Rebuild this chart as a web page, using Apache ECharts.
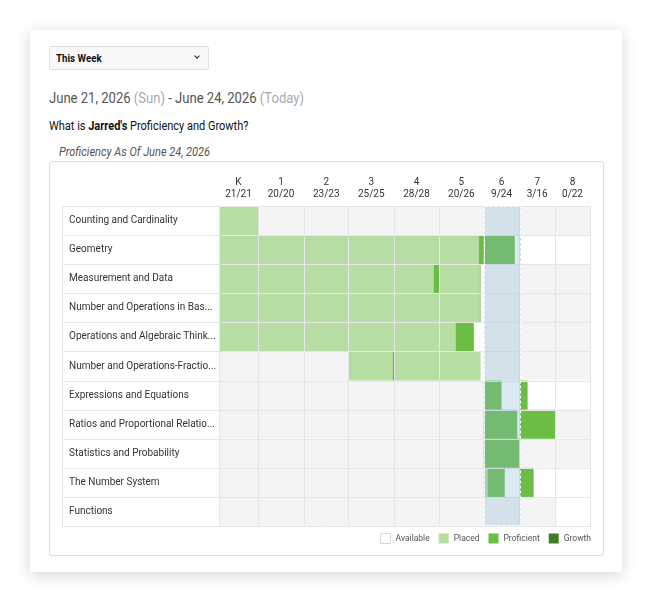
<!DOCTYPE html>
<html>
<head>
<meta charset="utf-8">
<script src="https://cdn.jsdelivr.net/npm/echarts@6/dist/echarts.min.js"></script>
<style>
  html, body { margin: 0; padding: 0; width: 653px; height: 603px; overflow: hidden; background: #fff;
    font-family: 'Roboto', sans-serif; }
  .card { position: absolute; left: 30px; top: 30px; width: 592px; height: 542px; background: #fff;
    box-shadow: 0 3px 14px rgba(0, 0, 0, 0.17); }
  .narrow { position: absolute; white-space: nowrap; transform-origin: 0 50%; }
  .select { position: absolute; left: 49px; top: 46px; width: 158px; height: 22px; background: #f8f8f8;
    border: 1px solid #e0e0e0; border-radius: 2px; }
  .select span { left: 6px; top: 4px; font-size: 11.5px; color: #111; font-weight: bold; transform: scaleX(0.85); }
  .select i { position: absolute; right: 9px; top: 7px; width: 3px; height: 3px; border-right: 1.5px solid #222;
    border-bottom: 1.5px solid #222; transform: rotate(45deg); }
  .dates { left: 49px; top: 90px; font-size: 14.5px; color: #555; transform: scaleX(0.9); }
  .dates span { color: #aaa; }
  .question { left: 49px; top: 118px; font-size: 12.5px; color: #111; transform: scaleX(0.88); }
  .sub { left: 59px; top: 144px; font-size: 12.5px; color: #555; font-style: italic; transform: scaleX(0.88); }
  .box { position: absolute; left: 49px; top: 161px; width: 553px; height: 393px; border: 1px solid #dedede; border-radius: 3px; }
  #chart { position: absolute; left: 0; top: 0; width: 653px; height: 603px; }
</style>
</head>
<body>
<div class="card"></div>
<div class="select"><span class="narrow">This Week</span><i></i></div>
<div class="narrow dates">June 21, 2026 <span>(Sun)</span> - June 24, 2026 <span>(Today)</span></div>
<div class="narrow question">What is <b>Jarred's</b> Proficiency and Growth?</div>
<div class="narrow sub">Proficiency As Of June 24, 2026</div>
<div class="box"></div>
<div id="chart"></div>

<script>
// 年级 / 得分
const grades = ['K', '1', '2', '3', '4', '5', '6', '7', '8'];
const gradeScores = ['21/21', '20/20', '23/23', '25/25', '28/28', '20/26', '9/24', '3/16', '0/22'];
const domains = [
  'Counting and Cardinality',
  'Geometry',
  'Measurement and Data',
  'Number and Operations in Base Ten',
  'Operations and Algebraic Thinking',
  'Number and Operations-Fractions',
  'Expressions and Equations',
  'Ratios and Proportional Relationships',
  'Statistics and Probability',
  'The Number System',
  'Functions'
];
const n = null; // grade not offered for this domain
// % of the cell placed
const placed = [
  [100, n, n, n, n, n, n, n, n],
  [100, 100, 100, 100, 100, 89, 0, 0, 0],
  [100, 100, 100, 100, 88, 91, n, n, n],
  [100, 100, 100, 100, 100, 91, n, n, n],
  [100, 100, 100, 100, 100, 37, n, n, n],
  [n, n, n, 97, 100, 93, n, n, n],
  [n, n, n, n, n, n, 3, 0, 0],
  [n, n, n, n, n, n, 0, 0, n],
  [n, n, n, n, n, n, 0, n, n],
  [n, n, n, n, n, n, 11, 0, 0],
  [n, n, n, n, n, n, n, n, 0]
];
// % of the cell proficient
const proficient = [
  [0, n, n, n, n, n, n, n, n],
  [0, 0, 0, 0, 0, 11, 87, 3, 0],
  [0, 0, 0, 0, 12, 2, n, n, n],
  [0, 0, 0, 0, 0, 2, n, n, n],
  [0, 0, 0, 0, 0, 41, n, n, n],
  [n, n, n, 3, 0, 0, n, n, n],
  [n, n, n, n, n, n, 47, 23, 0],
  [n, n, n, n, n, n, 94, 100, n],
  [n, n, n, n, n, n, 100, n, n],
  [n, n, n, n, n, n, 48, 40, 0],
  [n, n, n, n, n, n, n, n, 3]
];
const currentGrade = 6;

// layout
const colWeights = [39, 46, 44.4, 45.6, 45, 44.7, 35.7, 35.6, 35];
const labelCol = 157;
const font = "'Roboto', sans-serif";
const cPlaced = '#b6dea3', cProf = '#6cbd45', cGrowth = '#3f7d2b';

const edges = [0];
colWeights.forEach((w, i) => edges.push(edges[i] + w));
const centers = colWeights.map((w, i) => edges[i] + w / 2);

const cellData = [], placedData = [], profData = [];
domains.forEach((d, r) => {
  grades.forEach((g, c) => {
    const x0 = edges[c], w = edges[c + 1] - edges[c];
    const p = placed[r][c], q = proficient[r][c];
    cellData.push([x0, r, edges[c + 1], p === null ? 0 : 1]);
    if (p) placedData.push([x0, r, x0 + w * p / 100]);
    if (q) profData.push([x0 + w * (p || 0) / 100, r, x0 + w * ((p || 0) + q) / 100]);
  });
});

function segRect(api) {
  const a = api.coord([api.value(0), api.value(1)]);
  const b = api.coord([api.value(2), api.value(1)]);
  const h = api.size([0, 1])[1];
  return { x: a[0], y: a[1] - h / 2, width: b[0] - a[0], height: h };
}

const myChart = echarts.init(document.getElementById('chart'));
const option = {
  animation: false,
  textStyle: { fontFamily: font },
  grid: { left: 219, top: 206, width: 371, height: 320, outerBoundsMode: 'none' },
  legend: {
    right: 62, top: 533, padding: 0, itemWidth: 10, itemHeight: 10, itemGap: 9,
    textStyle: { fontSize: 8.5, color: '#555' },
    data: [
      { name: 'Available', icon: 'rect', itemStyle: { color: '#fff', borderColor: '#d8d8d8', borderWidth: 1 } },
      { name: 'Placed', icon: 'rect' },
      { name: 'Proficient', icon: 'rect' },
      { name: 'Growth', icon: 'rect' }
    ]
  },
  xAxis: {
    type: 'value', position: 'top', min: 0, max: edges[edges.length - 1],
    axisLine: { show: false }, axisTick: { show: false }, splitLine: { show: false },
    axisLabel: {
      customValues: centers,
      formatter: v => {
        const i = centers.findIndex(c => Math.abs(c - v) < 1e-6);
        return i < 0 ? '' : grades[i] + '\n' + gradeScores[i];
      },
      color: '#333', fontSize: 10, lineHeight: 12, margin: 6
    }
  },
  yAxis: {
    type: 'category', data: domains, inverse: true,
    axisLine: { show: false }, axisTick: { show: false }, splitLine: { show: false },
    axisLabel: {
      align: 'left', margin: 150, width: 149, overflow: 'truncate', ellipsis: '...',
      fontSize: 10, color: '#333'
    }
  },
  series: [
    {
      name: 'Available', type: 'custom', z: 1, silent: true,
      itemStyle: { color: '#fff' },
      encode: { x: [0, 2], y: 1 },
      data: cellData,
      renderItem: (params, api) => ({
        type: 'rect', shape: segRect(api),
        style: { fill: api.value(3) ? '#fff' : '#f4f4f4' }
      })
    },
    {
      name: 'Placed', type: 'custom', z: 2,
      itemStyle: { color: cPlaced },
      encode: { x: [0, 2], y: 1 },
      data: placedData,
      renderItem: (params, api) => ({ type: 'rect', shape: segRect(api), style: { fill: cPlaced } })
    },
    {
      name: 'Proficient', type: 'custom', z: 2,
      itemStyle: { color: cProf },
      encode: { x: [0, 2], y: 1 },
      data: profData,
      renderItem: (params, api) => ({ type: 'rect', shape: segRect(api), style: { fill: cProf } })
    },
    {
      name: 'Growth', type: 'custom', z: 2,
      itemStyle: { color: cGrowth },
      data: [],
      renderItem: () => null
    },
    {
      // 表格线
      type: 'custom', z: 3, silent: true,
      encode: { x: [0, 2], y: 1 },
      data: domains.map((d, r) => [0, r, edges[edges.length - 1]]),
      renderItem: (params, api) => {
        const s = segRect(api);
        const left = Math.round(s.x - labelCol) + 0.5;
        const right = Math.round(s.x + s.width) + 0.5;
        const top = Math.round(s.y) + 0.5, bot = Math.round(s.y + s.height) + 0.5;
        const st = { stroke: '#e6e6e6', lineWidth: 1 };
        const children = [
          { type: 'line', shape: { x1: left, y1: top, x2: right, y2: top }, style: st },
          { type: 'line', shape: { x1: left, y1: bot, x2: right, y2: bot }, style: st },
          { type: 'line', shape: { x1: left, y1: top, x2: left, y2: bot }, style: st }
        ];
        edges.forEach(e => {
          const x = Math.round(api.coord([e, 0])[0]) + 0.5;
          children.push({ type: 'line', shape: { x1: x, y1: top, x2: x, y2: bot }, style: st });
        });
        return { type: 'group', children };
      }
    },
    {
      // 当前年级高亮
      type: 'custom', z: 4, silent: true,
      encode: { x: [0, 2], y: 1 },
      data: [[edges[currentGrade], 0, edges[currentGrade + 1]]],
      renderItem: (params, api) => {
        const a = api.coord([api.value(0), 0]);
        const b = api.coord([api.value(2), domains.length - 1]);
        const h = api.size([0, 1])[1];
        return {
          type: 'rect',
          shape: { x: Math.round(a[0]) + 0.5, y: Math.round(a[1] - h / 2) + 0.5,
            width: Math.round(b[0] - a[0]), height: Math.round(b[1] - a[1] + h) - 1 },
          style: { fill: 'rgba(135,182,216,0.3)', stroke: '#fff', lineWidth: 1, lineDash: [3, 2] }
        };
      }
    }
  ]
};
myChart.setOption(option);
window.addEventListener('resize', () => myChart.resize());
</script>
</body>
</html>
